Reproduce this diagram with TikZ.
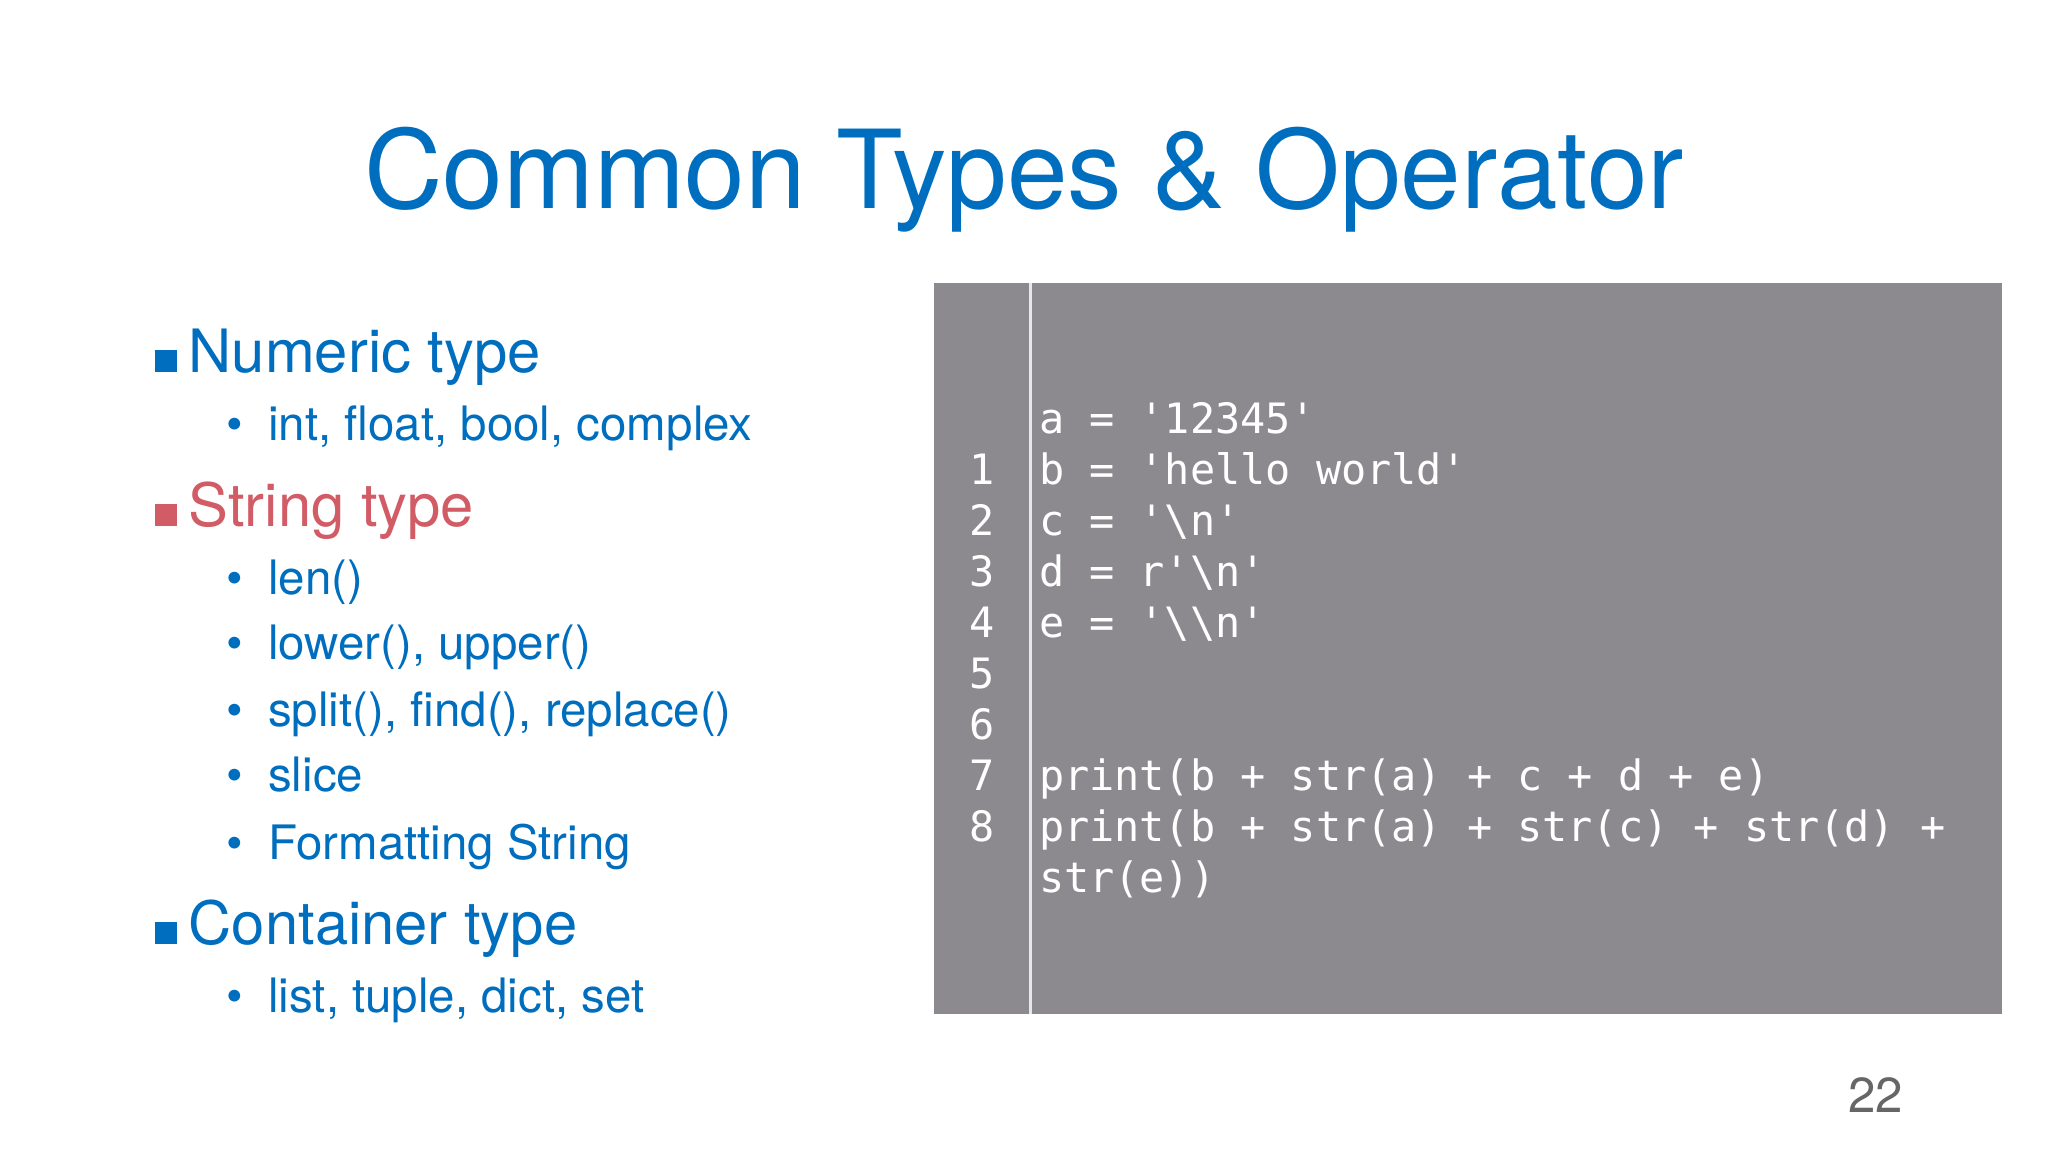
\documentclass[tikz,border=0pt]{standalone}
\usepackage{fontspec}
\setmainfont{TeX Gyre Heros}
\setmonofont{DejaVu Sans Mono}
\definecolor{SlideBlue}{rgb}{0.0,0.43,0.75}
\definecolor{SlideRed}{rgb}{0.82,0.36,0.40}
\definecolor{CodeGray}{rgb}{0.55,0.54,0.56}
\begin{document}
\begin{tikzpicture}[x=0.01306cm,y=-0.01306cm,
  head/.style={anchor=base west,inner sep=0,font=\fontsize{17}{20}\selectfont},
  item/.style={anchor=base west,inner sep=0,text=SlideBlue,font=\fontsize{13.5}{16}\selectfont},
  code/.style={anchor=base west,inner sep=0,text=white,font=\ttfamily\fontsize{11.9}{14}\selectfont},
  lnum/.style={anchor=base,inner sep=0,text=white,font=\ttfamily\fontsize{11.9}{14}\selectfont}]
\useasboundingbox (0,0) rectangle (1568,882);
\def\sq{\rule{0.22cm}{0.22cm}}

\node[anchor=base,inner sep=0,text=SlideBlue,font=\fontsize{31}{36}\selectfont] (title) at (784,160) {Common Types \& Operator};

% left column
\node[head,text=SlideBlue] (h1) at (118,285) {\sq\hspace{0.12cm}Numeric type};
\node[item] (i1) at (173,337) {•\hspace{0.25cm}int, float, bool, complex};
\node[head,text=SlideRed] (h2) at (118,403) {\sq\hspace{0.12cm}String type};
\foreach \y/\t [count=\i] in {455/len(), 505/{lower(), upper()}, 556/{split(), find(), replace()}, 606/slice, 658/Formatting String}
  \node[item] (s\i) at (173,\y) {•\hspace{0.25cm}\t};
\node[head,text=SlideBlue] (h3) at (118,723) {\sq\hspace{0.12cm}Container type};
\node[item] (i3) at (173,775) {•\hspace{0.25cm}list, tuple, dict, set};

% code box
\fill[CodeGray] (715,217) rectangle (1533,776);
\draw[white!80!CodeGray,line width=0.6pt] (789,217) -- (789,776);
\foreach \n in {1,...,8}
  \node[lnum] (n\n) at (752,{332+39*\n}) {\n};
\node[code] (c0) at (795,332) {a = '12345'};
\node[code] (c1) at (795,371) {b = 'hello world'};
\node[code] (c2) at (795,410) {c = '\textbackslash n'};
\node[code] (c3) at (795,449) {d = r'\textbackslash n'};
\node[code] (c4) at (795,488) {e = '\textbackslash\textbackslash n'};
\node[code] (c7) at (795,605) {print(b + str(a) + c + d + e)};
\node[code] (c8) at (795,644) {print(b + str(a) + str(c) + str(d) +};
\node[code] (c9) at (795,683) {str(e))};

\node[anchor=base,inner sep=0,text=black!60,font=\fontsize{14}{16}\selectfont] (page) at (1436,852) {22};
\end{tikzpicture}
\end{document}
